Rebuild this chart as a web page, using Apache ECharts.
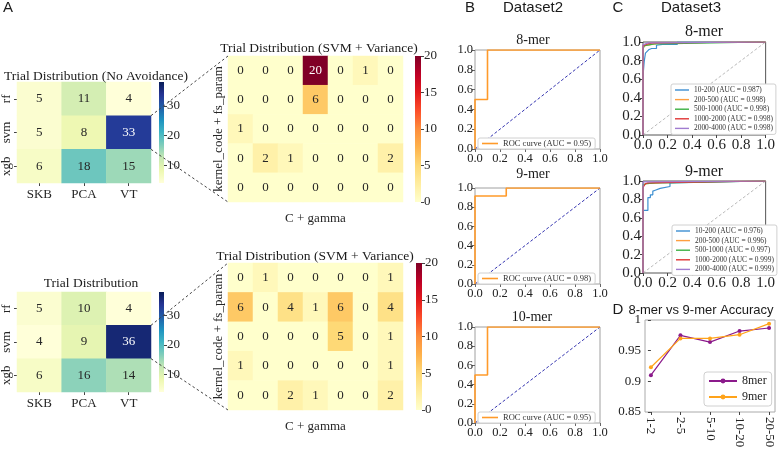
<!DOCTYPE html>
<html><head><meta charset="utf-8">
<script src="https://cdn.jsdelivr.net/npm/echarts@6/dist/echarts.min.js"></script>
<style>html,body{margin:0;padding:0;background:#fff}#c{width:778px;height:453px}</style>
</head><body><div id="c"></div>
<script>
// ---------- data ----------
const featCats = ['SKB', 'PCA', 'VT'];
const modelCats = ['rf', 'svm', 'xgb'];
const trialNoAvoid = [[5, 11, 4], [5, 8, 33], [6, 18, 15]];
const trialDist = [[5, 10, 4], [4, 9, 36], [6, 16, 14]];
const svmCols = ['c1', 'c2', 'c3', 'c4', 'c5', 'c6', 'c7'];
const svmRows = ['r1', 'r2', 'r3', 'r4', 'r5'];
const svmVarTop = [[0,0,0,20,0,1,0],[0,0,0,6,0,0,0],[1,0,0,0,0,0,0],[0,2,1,0,0,0,2],[0,0,0,0,0,0,0]];
const svmVarBottom = [[0,1,0,0,0,0,1],[6,0,4,1,6,0,4],[0,0,0,0,5,0,1],[1,0,0,0,0,0,1],[0,0,2,1,0,0,2]];
const blueRange = [4, 38];
const redRange = [0, 20];
const blueTicks = [10, 20, 30];
const redTicks = [0, 5, 10, 15, 20];

const rocB8 = [[0,0],[0,0.5],[0.1,0.5],[0.1,1],[1,1]];
const rocB9 = [[0,0],[0,0.917],[0.25,0.917],[0.25,1],[1,1]];
const rocB10 = [[0,0],[0,0.5],[0.1,0.5],[0.1,1],[1,1]];
const rocBNames = ['ROC curve (AUC = 0.95)', 'ROC curve (AUC = 0.98)', 'ROC curve (AUC = 0.95)'];
const diagLine = [[0,0],[1,1]];

const c8Names = ['10-200 (AUC = 0.987)','200-500 (AUC = 0.998)','500-1000 (AUC = 0.998)','1000-2000 (AUC = 0.998)','2000-4000 (AUC = 0.998)'];
const c8Blue = [[0,0],[0,0.635],[0.01,0.635],[0.01,0.79],[0.02,0.79],[0.02,0.88],[0.035,0.9],[0.05,0.92],[0.07,0.93],[0.11,0.93],[0.11,0.965],[0.16,0.975],[0.28,0.975],[0.28,1],[1,1]];
const c8Orange = [[0,0],[0,0.95],[0.02,0.96],[0.05,0.97],[0.1,0.98],[0.12,0.99],[0.12,1],[1,1]];
const c8Green = [[0,0],[0,0.92],[0.01,0.92],[0.01,0.96],[0.05,0.97],[0.09,0.98],[0.12,0.98],[0.12,1],[1,1]];
const c8Red = [[0,0],[0,0.96],[0.02,0.97],[0.04,0.98],[0.08,0.99],[0.08,1],[1,1]];
const c8Purple = [[0,0],[0,0.97],[0.02,0.98],[0.04,0.99],[0.04,1],[1,1]];

const c9Names = ['10-200 (AUC = 0.976)','200-500 (AUC = 0.996)','500-1000 (AUC = 0.997)','1000-2000 (AUC = 0.999)','2000-4000 (AUC = 0.999)'];
const c9Blue = [[0,0],[0,0.68],[0.04,0.68],[0.04,0.82],[0.06,0.82],[0.06,0.85],[0.08,0.85],[0.08,0.89],[0.1,0.9],[0.1,0.92],[0.14,0.92],[0.14,0.94],[0.22,0.94],[0.22,0.98],[0.23,0.98],[0.23,1],[1,1]];
const c9Orange = [[0,0],[0,0.95],[0.02,0.97],[0.12,0.98],[0.2,0.99],[0.2,1],[1,1]];
const c9Green = [[0,0],[0,0.96],[0.03,0.97],[0.1,0.98],[0.17,0.98],[0.17,1],[1,1]];
const c9Red = [[0,0],[0,0.93],[0.01,0.95],[0.02,0.97],[0.04,0.98],[0.05,0.99],[0.05,1],[1,1]];
const c9Purple = [[0,0],[0,0.99],[0.01,1],[1,1]];

const accCats = ['1-2', '2-5', '5-10', '10-20', '20-50'];
const acc8 = [0.910, 0.975, 0.964, 0.982, 0.987];
const acc9 = [0.923, 0.970, 0.970, 0.976, 0.994];

// ---------- style / layout ----------
const SERIF = '"Liberation Serif", "DejaVu Serif", serif';
const SANS = '"Liberation Sans", "DejaVu Sans", sans-serif';
const YlGnBu = ['#ffffd9','#edf8b1','#c7e9b4','#7fcdbb','#41b6c4','#1d91c0','#225ea8','#253494','#081d58'];
const YlOrRd = ['#ffffcc','#ffeda0','#fed976','#feb24c','#fd8d3c','#fc4e2a','#e31a1c','#bd0026','#800026'];
const cColors = ['#3d8fd1', '#ff9f40', '#3cb043', '#e03535', '#a07cd0'];

const L = {
  hmTL: {left: 17, top: 82, width: 134, height: 101},
  cbTL: {left: 159, top: 82, width: 5, height: 101},
  hmTM: {left: 228, top: 56, width: 175, height: 146},
  cbTM: {left: 415, top: 56, width: 6, height: 146},
  hmBL: {left: 17, top: 292, width: 134, height: 100},
  cbBL: {left: 159, top: 292, width: 5, height: 100},
  hmBM: {left: 228, top: 263, width: 175, height: 147},
  cbBM: {left: 416, top: 263, width: 6, height: 147},
  b8: {left: 475, top: 50, width: 125, height: 99},
  b9: {left: 475, top: 188, width: 125, height: 96},
  b10: {left: 475, top: 327, width: 125, height: 96},
  c8: {left: 643, top: 42, width: 124, height: 93},
  c9: {left: 643, top: 181, width: 124, height: 92},
  d: {left: 645, top: 320, width: 130, height: 92}
};

const grids = [], xAxes = [], yAxes = [], series = [], legends = [], graphics = [], visualMaps = [];

function addGrid(box, extra) {
  grids.push(Object.assign({containLabel: false}, box, extra || {}));
  return grids.length - 1;
}

function heatBlock(box, cbBox, xc, yc, mat, range, cmap, ticks, labeled) {
  const gi = addGrid(box);
  const axisLbl = {fontFamily: SERIF, fontSize: 13, color: '#262626'};
  xAxes.push({gridIndex: gi, type: 'category', data: xc, position: 'bottom',
    axisLine: {show: false},
    axisTick: {show: labeled, alignWithLabel: true, length: 3, lineStyle: {color: '#444'}},
    axisLabel: Object.assign({show: labeled, margin: 5}, axisLbl),
    splitLine: {show: false},
    name: labeled ? '' : 'C + gamma', nameLocation: 'middle', nameGap: 10,
    nameTextStyle: {fontFamily: SERIF, fontSize: 13, color: '#262626', verticalAlign: 'top'}
  });
  yAxes.push({gridIndex: gi, type: 'category', data: yc, inverse: true,
    axisLine: {show: false},
    axisTick: {show: labeled, alignWithLabel: true, length: 3, lineStyle: {color: '#444'}},
    axisLabel: Object.assign({show: labeled, rotate: 90, margin: 4}, axisLbl),
    splitLine: {show: false},
    name: labeled ? '' : 'kernel_code + fs_param', nameLocation: 'middle', nameGap: 3, nameRotate: 90,
    nameTextStyle: {fontFamily: SERIF, fontSize: 13, color: '#262626'}
  });
  const xi = xAxes.length - 1, yi = yAxes.length - 1;
  const data = [];
  mat.forEach((row, r) => row.forEach((v, c) => {
    const t = (v - range[0]) / (range[1] - range[0]);
    data.push({value: [c, r, v], label: {color: t > 0.6 ? '#ffffff' : '#262626'}});
  }));
  series.push({type: 'heatmap', xAxisIndex: xi, yAxisIndex: yi, data: data,
    label: {show: true, fontFamily: SERIF, fontSize: 13, formatter: p => String(p.value[2])},
    itemStyle: {borderWidth: 0}, emphasis: {disabled: true}, silent: true});
  const si = series.length - 1;
  visualMaps.push({type: 'continuous', show: false, seriesIndex: si, dimension: 2,
    min: range[0], max: range[1], inRange: {color: cmap}});
  // colorbar
  const cg = addGrid(cbBox);
  xAxes.push({gridIndex: cg, type: 'category', data: ['cb'], show: false});
  yAxes.push({gridIndex: cg, type: 'value', min: range[0], max: range[1], position: 'right',
    axisLine: {show: false}, splitLine: {show: false},
    axisTick: {show: true, length: 3, customValues: ticks, lineStyle: {color: '#444'}},
    axisLabel: {customValues: ticks, fontFamily: SERIF, fontSize: 13, color: '#262626', margin: 3}
  });
  const stops = cmap.slice().reverse().map((c, i, a) => ({offset: i / (a.length - 1), color: c}));
  series.push({type: 'bar', xAxisIndex: xAxes.length - 1, yAxisIndex: yAxes.length - 1,
    data: [range[1]], barWidth: '100%', silent: true,
    itemStyle: {color: {type: 'linear', x: 0, y: 0, x2: 0, y2: 1, colorStops: stops}}});
}

function valueAxes(gi, fs, tickColor) {
  const base = {gridIndex: gi, type: 'value', min: 0, max: 1, interval: 0.2,
    splitLine: {show: false}, axisLine: {show: false},
    axisTick: {show: true, length: 3, lineStyle: {color: tickColor}},
    axisLabel: {fontFamily: SERIF, fontSize: fs, color: '#222', margin: 3, formatter: v => v.toFixed(1)}};
  xAxes.push(Object.assign({}, base));
  yAxes.push(Object.assign({}, base, {axisLabel: Object.assign({}, base.axisLabel, {margin: 2})}));
  return [xAxes.length - 1, yAxes.length - 1];
}

function lineSeries(name, data, xi, yi, color, width, dashed) {
  series.push({type: 'line', name: name, data: data, xAxisIndex: xi, yAxisIndex: yi,
    symbol: 'none', silent: true,
    lineStyle: {color: color, width: width, type: dashed ? [3, 2] : 'solid'},
    itemStyle: {color: color}, z: dashed ? 2 : 3});
}

// ---------- Panel A ----------
heatBlock(L.hmTL, L.cbTL, featCats, modelCats, trialNoAvoid, blueRange, YlGnBu, blueTicks, true);
heatBlock(L.hmTM, L.cbTM, svmCols, svmRows, svmVarTop, redRange, YlOrRd, redTicks, false);
heatBlock(L.hmBL, L.cbBL, featCats, modelCats, trialDist, blueRange, YlGnBu, blueTicks, true);
heatBlock(L.hmBM, L.cbBM, svmCols, svmRows, svmVarBottom, redRange, YlOrRd, redTicks, false);

// ---------- Panel B ----------
const bBoxes = [L.b8, L.b9, L.b10];
const bCurves = [rocB8, rocB9, rocB10];
bBoxes.forEach((box, k) => {
  const gi = addGrid(box, {show: true, borderColor: '#a0a0a0', borderWidth: 1, backgroundColor: 'transparent'});
  const [xi, yi] = valueAxes(gi, 12.5, '#666');
  lineSeries('diagB' + k, diagLine, xi, yi, '#3535b0', 1, true);
  lineSeries(rocBNames[k], bCurves[k], xi, yi, '#ff9a2a', 1.6, false);
  legends.push({data: [rocBNames[k]], left: box.left + 3, top: box.top + box.height - 11,
    orient: 'horizontal', icon: 'rect', itemWidth: 16, itemHeight: 1.6, itemGap: 2, padding: [1, 4, 1, 4],
    borderColor: '#d0d0d0', borderWidth: 1, borderRadius: 2, backgroundColor: '#fff',
    selectedMode: false, textStyle: {fontFamily: SERIF, fontSize: 8.5, color: '#333'}});
});

// ---------- Panel C ----------
const cSets = [
  {box: L.c8, names: c8Names, curves: [c8Blue, c8Orange, c8Green, c8Red, c8Purple], lt: [671, 84]},
  {box: L.c9, names: c9Names, curves: [c9Blue, c9Orange, c9Green, c9Red, c9Purple], lt: [672, 225]}
];
cSets.forEach((s, k) => {
  const gi = addGrid(s.box, {show: true, borderColor: '#555', borderWidth: 1, backgroundColor: 'transparent'});
  const [xi, yi] = valueAxes(gi, 15, '#444');
  lineSeries('diagC' + k, diagLine, xi, yi, '#aaaaaa', 0.8, true);
  s.curves.forEach((cv, j) => lineSeries(s.names[j], cv, xi, yi, cColors[j], 1.2, false));
  legends.push({data: s.names, left: s.lt[0], top: s.lt[1], orient: 'vertical',
    icon: 'rect', itemWidth: 14, itemHeight: 1.4, itemGap: 1.6, padding: [2, 3, 2, 4],
    borderColor: '#d0d0d0', borderWidth: 1, borderRadius: 2, backgroundColor: '#fff',
    selectedMode: false, textStyle: {fontFamily: SERIF, fontSize: 7.4, color: '#333', lineHeight: 8}});
});

// ---------- Panel D ----------
(function () {
  const gi = addGrid(L.d, {show: true, borderColor: '#aaaaaa', borderWidth: 1, backgroundColor: 'transparent'});
  const idx = accCats.map((_, i) => i);
  xAxes.push({gridIndex: gi, type: 'value', min: -0.2, max: 4.2,
    splitLine: {show: false}, axisLine: {show: false},
    axisTick: {show: true, length: 3, customValues: idx, lineStyle: {color: '#444'}},
    axisLabel: {customValues: idx, formatter: v => accCats[Math.round(v)], rotate: -90,
      fontFamily: SERIF, fontSize: 13, color: '#222', margin: 5}});
  yAxes.push({gridIndex: gi, type: 'value', min: 0.85, max: 1.0, interval: 0.05,
    splitLine: {show: false}, axisLine: {show: false},
    axisTick: {show: true, length: 3, lineStyle: {color: '#444'}},
    axisLabel: {fontFamily: SERIF, fontSize: 13, color: '#222', margin: 4}});
  const xi = xAxes.length - 1, yi = yAxes.length - 1;
  [['8mer', acc8, '#8b1a8b'], ['9mer', acc9, '#ffa31a']].forEach(([nm, arr, col]) => {
    series.push({type: 'line', name: nm, data: arr.map((v, i) => [i, v]), xAxisIndex: xi, yAxisIndex: yi,
      symbol: 'circle', symbolSize: 4, showSymbol: true, silent: true,
      lineStyle: {color: col, width: 1.2}, itemStyle: {color: col}});
  });
  legends.push({data: ['8mer', '9mer'], left: 704, top: 372, orient: 'vertical',
    itemWidth: 28, itemHeight: 6, itemGap: 4, padding: [3, 5, 3, 4],
    borderColor: '#d0d0d0', borderWidth: 1, borderRadius: 3, backgroundColor: '#fff',
    selectedMode: false, textStyle: {fontFamily: SERIF, fontSize: 12, color: '#222'}});
})();

// ---------- texts & connectors ----------
function txt(text, x, y, size, family) {
  graphics.push({type: 'text', x: x, y: y, z: 100, silent: true,
    style: {text: text, fill: '#1a1a1a', font: size + 'px ' + family, textAlign: 'center', textVerticalAlign: 'middle'}});
}
txt('A', 8, 8, 15, SANS);
txt('B', 470, 8, 15, SANS);
txt('C', 618, 8, 15, SANS);
txt('D', 618, 310, 15, SANS);
txt('Dataset2', 533, 8, 15, SANS);
txt('Dataset3', 691, 8, 15, SANS);
txt('Trial Distribution (No Avoidance)', 96, 76, 13.5, SERIF);
txt('Trial Distribution', 91, 283, 13.5, SERIF);
txt('Trial Distribution (SVM + Variance)', 319, 48, 13.5, SERIF);
txt('Trial Distribution (SVM + Variance)', 315, 256, 13.5, SERIF);
txt('8-mer', 533, 40, 14, SERIF);
txt('9-mer', 533, 174, 14, SERIF);
txt('10-mer', 532, 317, 14, SERIF);
txt('8-mer', 704, 32, 16, SERIF);
txt('9-mer', 704, 172, 16, SERIF);
txt('8-mer vs 9-mer Accuracy', 701, 310, 13, SANS);

function connector(from, to) {
  const x0 = from.left + from.width;
  const y1 = from.top + from.height / 3, y2 = from.top + 2 * from.height / 3;
  [[y1, to.top], [y2, to.top + to.height]].forEach(([ya, yb]) => {
    graphics.push({type: 'line', z: 120, silent: true,
      shape: {x1: x0, y1: ya, x2: to.left, y2: yb},
      style: {stroke: '#444', lineWidth: 1, lineDash: [2.5, 2.5]}});
  });
}
connector(L.hmTL, L.hmTM);
connector(L.hmBL, L.hmBM);

const chart = echarts.init(document.getElementById('c'), null, {renderer: 'canvas'});
chart.setOption({
  animation: false,
  backgroundColor: '#ffffff',
  grid: grids, xAxis: xAxes, yAxis: yAxes, series: series,
  legend: legends, visualMap: visualMaps, graphic: graphics
});
</script></body></html>
